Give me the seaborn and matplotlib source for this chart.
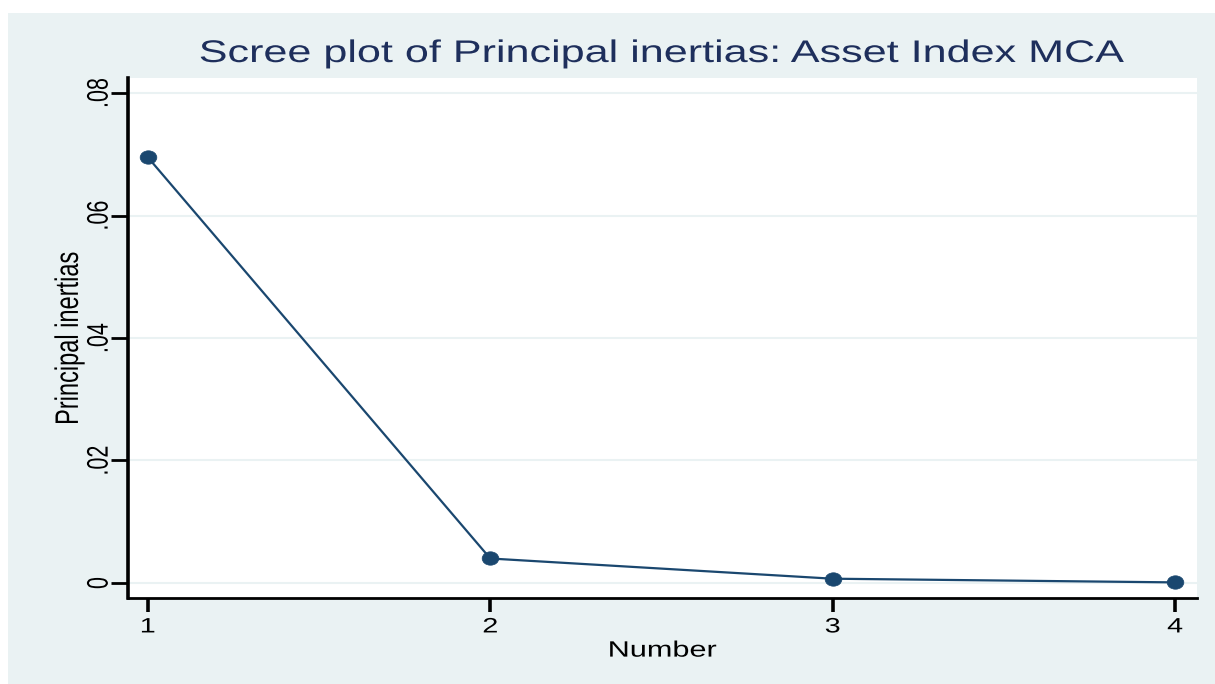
import matplotlib
matplotlib.use("Agg")
import matplotlib.pyplot as plt
import seaborn as sns
import pandas as pd
from matplotlib.patches import Rectangle
from matplotlib.patheffects import AbstractPathEffect
from matplotlib.path import Path
from matplotlib.transforms import Affine2D

# Scree data: principal inertias of the asset-index MCA
dimension = [1, 2, 3, 4]
inertia = [0.0695, 0.0040, 0.0007, 0.0001]
y_ticks = [0.0, 0.02, 0.04, 0.06, 0.08]
y_tick_labels = ["0", ".02", ".04", ".06", ".08"]
x_ticks = [1, 2, 3, 4]

df = pd.DataFrame({"Number": dimension, "Principal inertias": inertia})

sns.set_theme(style="white")
plt.rcParams["font.family"] = ["Liberation Sans", "DejaVu Sans"]

SX = 1.38  # horizontal aspect of the graph export


class WideText(AbstractPathEffect):
    """Stretch rendered glyphs horizontally about an anchor edge."""

    def __init__(self, sx=SX, anchor="center"):
        super().__init__()
        self.sx = sx
        self.anchor = anchor

    def draw_path(self, renderer, gc, tpath, affine, rgbFace=None):
        bb = tpath.get_extents(affine)
        if self.anchor == "right":
            cx = bb.x1
        elif self.anchor == "left":
            cx = bb.x0
        else:
            cx = 0.5 * (bb.x0 + bb.x1)
        stretch = Affine2D().translate(-cx, 0).scale(self.sx, 1).translate(cx, 0)
        renderer.draw_path(gc, tpath, affine + stretch, rgbFace)


navy = "#1a476f"
outer_bg = "#eaf2f3"
grid_col = "#eaf2f3"

fig = plt.figure(figsize=(12.15, 6.84), dpi=100)
fig.patch.set_facecolor("white")
# graph region background (thin white margin top and left)
fig.add_artist(Rectangle((8 / 1215, 0), 1 - 8 / 1215, 1 - 13 / 684,
                         transform=fig.transFigure, facecolor=outer_bg,
                         edgecolor="none", zorder=0))

W, H = 1215, 684
left, right, top, bottom = 128, 1197, 78, 598
ax = fig.add_axes([left / W, 1 - bottom / H, (right - left) / W, (bottom - top) / H])
ax.set_facecolor("white")

for yv in y_ticks:
    ax.axhline(yv, color=grid_col, lw=1.5, zorder=1)

# slightly wide circle marker
wide_dot = Path.unit_circle().transformed(Affine2D().scale(SX * 0.9, 1.0))

sns.lineplot(data=df, x="Number", y="Principal inertias", ax=ax, color=navy,
             lw=1.6, marker=wide_dot, markersize=12, markeredgecolor=navy,
             markerfacecolor=navy, markeredgewidth=0.5, zorder=3)

ax.set_xlim(0.942, 4.064)
ax.set_ylim(-0.00245, 0.08245)
ax.set_xticks(x_ticks)
ax.set_xticklabels([str(v) for v in x_ticks], fontsize=15, color="black")
ax.set_yticks(y_ticks)
ax.set_yticklabels(y_tick_labels, fontsize=15.5, color="black", rotation=90,
                   va="center")
ax.tick_params(axis="x", direction="out", length=10, width=2.6, color="black",
               bottom=True, pad=4)
ax.tick_params(axis="y", direction="out", length=12, width=2, color="black",
               left=True, pad=-1)

for lab in ax.get_xticklabels():
    lab.set_path_effects([WideText(anchor="center")])
for lab in ax.get_yticklabels():
    lab.set_path_effects([WideText(anchor="right")])

for side in ["top", "right"]:
    ax.spines[side].set_visible(False)
ax.spines["left"].set_color("black")
ax.spines["left"].set_linewidth(2.6)
ax.spines["bottom"].set_color("black")
ax.spines["bottom"].set_linewidth(2)

ax.set_xlabel("Number", fontsize=16, color="black", labelpad=3,
              path_effects=[WideText(anchor="center")])
ax.set_ylabel("Principal inertias", fontsize=17, color="black", labelpad=5,
              path_effects=[WideText(anchor="right")])

fig.text(662 / W, 1 - 54 / H, "Scree plot of Principal inertias: Asset Index MCA",
         ha="center", va="center", fontsize=22.5, color="#1e2f5c",
         path_effects=[WideText(anchor="center")])

fig.savefig("out.png", dpi=100, facecolor=fig.get_facecolor())
